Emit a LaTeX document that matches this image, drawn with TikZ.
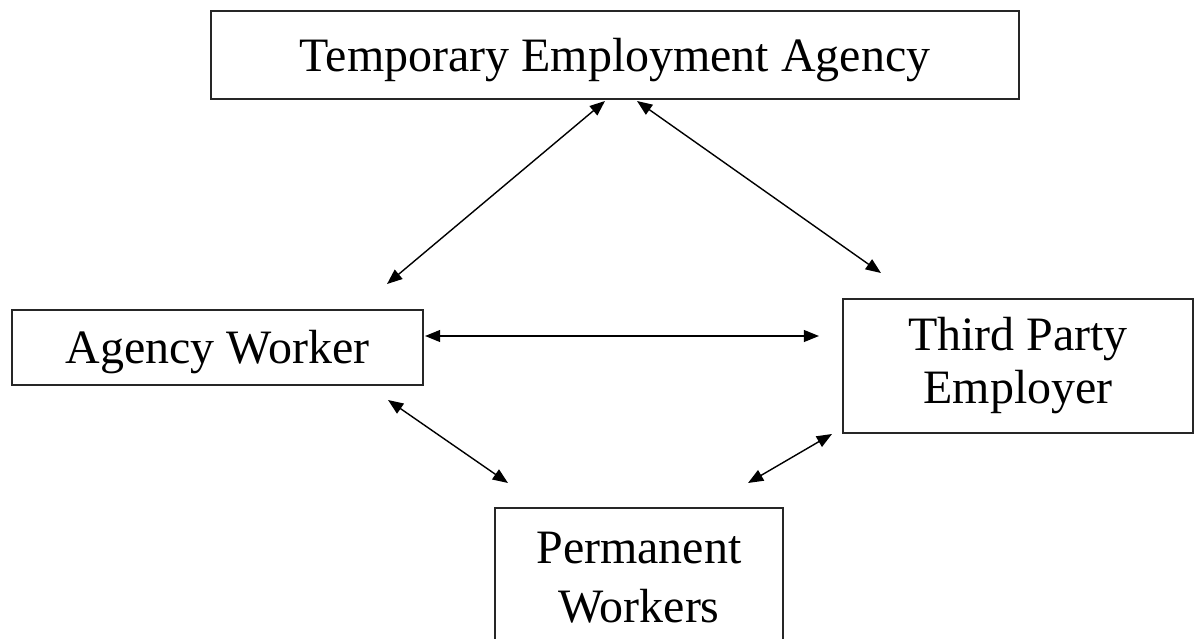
\documentclass[tikz,border=0pt]{standalone}
\usepackage{fontspec}
\setmainfont{Liberation Serif}
\usetikzlibrary{arrows.meta, calc}

\begin{document}
\begin{tikzpicture}[x=0.025cm, y=-0.025cm,
    party/.style={rectangle, draw=black!85, line width=1.4pt, inner sep=0pt, font=\fontsize{34.1}{37.7}\selectfont},
    oneline/.style={text height=23.2pt, text depth=0pt},
    link/.style={{Triangle[length=0.38cm,width=0.3cm]}-{Triangle[length=0.38cm,width=0.3cm]}, line width=1pt}]

\path[use as bounding box, clip] (0,0) rectangle (1197,638);

% Nodes
\node [party, oneline, minimum width=20.2cm, minimum height=2.2cm] (tea) at (615,55) {Temporary Employment Agency};
\node [party, oneline, minimum width=10.275cm, minimum height=1.875cm] (aw) at (217.5,347.5) {Agency Worker};
\node [party, align=center, minimum width=8.75cm, minimum height=3.35cm] (tpe) at (1018,366) {Third Party\\Employer};
\node [party, align=center, minimum width=7.2cm, minimum height=3.5cm, font=\fontsize{34.1}{42}\selectfont] (pw) at (639,578) {Permanent\\Workers};

% Relationships
\draw [link] ($(tea.south)+(-10,1)$) -- ($(aw.north east)+(-37,-25)$);
\draw [link] ($(tea.south)+(22,1)$) -- ($(tpe.north west)+(39,-25)$);
\draw [link] ($(aw.east)+(1,-11.5)$) -- ($(tpe.west)+(-23,-30)$);
\draw [link] ($(aw.south east)+(-36,14)$) -- ($(pw.north west)+(14,-24)$);
\draw [link] ($(pw.north east)+(-36,-24)$) -- ($(tpe.south west)+(-10,0)$);

\end{tikzpicture}
\end{document}
